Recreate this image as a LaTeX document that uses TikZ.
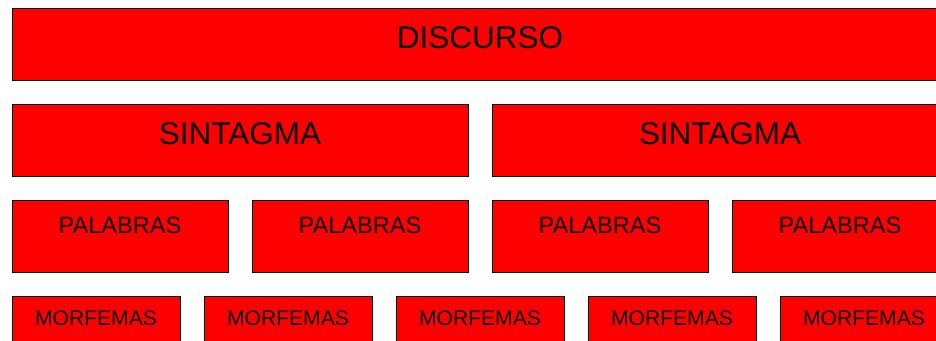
\documentclass[tikz,border=0pt]{standalone}
\usepackage{fontspec}
\setmainfont{Liberation Sans}
\begin{document}
\begin{tikzpicture}[x=0.75pt,y=-0.75pt,
  box/.style={draw=black, fill=red, line width=1.1pt, anchor=north west, inner sep=0pt, minimum height=54pt},
  lbl/.style={anchor=base, inner sep=0pt, text=black},
  big/.style={font=\fontsize{23.6}{28}\selectfont},
  mid/.style={font=\fontsize{17.7}{21}\selectfont},
  small/.style={font=\fontsize{15.8}{19}\selectfont}]
\useasboundingbox (0,0) rectangle (936,341);
\clip (0,0) rectangle (936,341);
% row 1
\node[box, minimum width=702pt] (disc) at (12,8) {};
\node[lbl, big] (discT) at (480,48.3) {DISCURSO};
% row 2
\foreach \i/\x in {1/12, 2/492} {
  \node[box, minimum width=342pt] (sint\i) at (\x,104) {};
  \node[lbl, big] (sintT\i) at (\x+228,145) {SINTAGMA};
}
% row 3
\foreach \i/\x in {1/12, 2/252, 3/492, 4/732} {
  \node[box, minimum width=162pt] (pal\i) at (\x,200) {};
  \node[lbl, mid] (palT\i) at (\x+108,233.3) {PALABRAS};
}
% row 4
\foreach \i/\x in {1/12, 2/204, 3/396, 4/588, 5/780} {
  \node[box, minimum width=126pt] (mor\i) at (\x,296) {};
  \node[lbl, small] (morT\i) at (\x+84,326) {MORFEMAS};
}
\end{tikzpicture}
\end{document}
